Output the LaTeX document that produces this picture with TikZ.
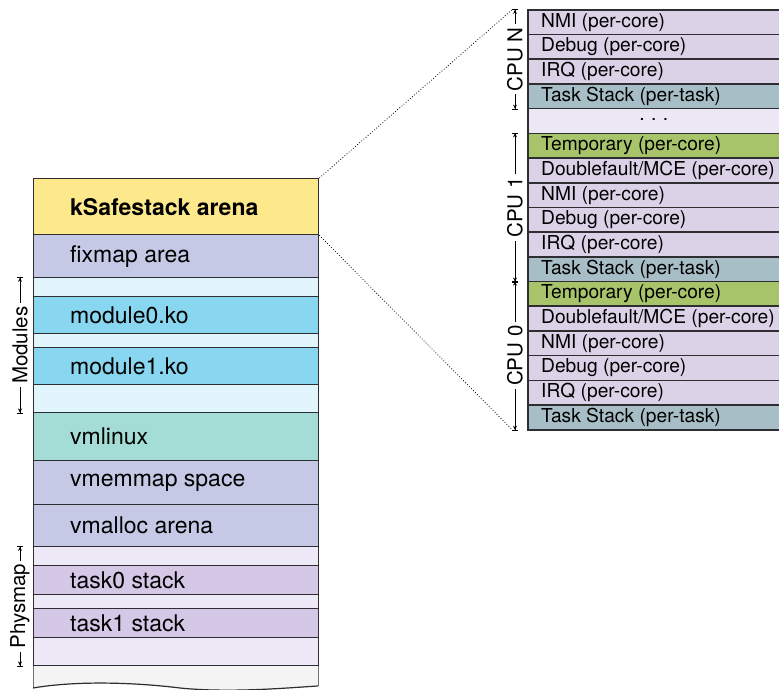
\documentclass[tikz,border=0pt]{standalone}
\usepackage{fontspec}
\setmainfont{TeX Gyre Heros}
\usetikzlibrary{arrows.meta}

% region fills
\definecolor{cYellow}{RGB}{254,232,140}
\definecolor{cLav}{RGB}{198,201,230}
\definecolor{cIce}{RGB}{224,245,252}
\definecolor{cCyan}{RGB}{136,214,240}
\definecolor{cTeal}{RGB}{164,220,214}
\definecolor{cPale}{RGB}{237,233,246}
\definecolor{cPurple}{RGB}{213,200,230}
\definecolor{cGray}{RGB}{244,244,244}
% stack fills
\definecolor{cCore}{RGB}{220,210,232}
\definecolor{cTask}{RGB}{168,190,198}
\definecolor{cTemp}{RGB}{168,196,106}
\definecolor{cDots}{RGB}{235,231,244}
\definecolor{cEdge}{RGB}{45,45,50}

\begin{document}
\begin{tikzpicture}[x=1pt,y=-1pt,
  leftrow/.style={rectangle,draw=cEdge,line width=1.3pt,inner sep=0pt,
    minimum width=285pt,anchor=north west},
  rightrow/.style={rectangle,draw=cEdge,line width=1.6pt,inner sep=0pt,
    minimum width=260pt,minimum height=24.706pt,anchor=north west},
  lefttext/.style={anchor=west,inner sep=0pt,font=\fontsize{23}{27}\selectfont},
  righttext/.style={anchor=west,inner sep=0pt,font=\fontsize{19.2}{23}\selectfont},
  dimline/.style={line width=0.8pt,
    arrows={Bar[width=6pt]Stealth[length=4pt,width=4pt]-Stealth[length=4pt,width=4pt]Bar[width=6pt]}},
  dimlabel/.style={rotate=90,fill=white,inner xsep=3pt,inner ysep=0.5pt,
    font=\fontsize{20.5}{24}\selectfont},
  zoomline/.style={dotted,line width=0.8pt,black}]

\useasboundingbox (0,0) rectangle (779,690);
\clip (0,0) rectangle (779,690);

% ---- kernel address space column ----
\fill[cGray] (33,665) -- (33,688) .. controls (80,680) and (140,683) .. (180,688)
  .. controls (230,693) and (285,688) .. (318,686) -- (318,665) -- cycle;
\draw[black!55,line width=1pt] (33,665) -- (33,688) (318,665) -- (318,686);
\draw[cEdge,line width=1.2pt] (33,688) .. controls (80,680) and (140,683) .. (180,688)
  .. controls (230,693) and (285,688) .. (318,686);

\foreach \n/\t/\b/\c/\txt in {
  ksafe/178/234/cYellow/{\textbf{kSafestack arena}},
  fixmap/234/277/cLav/{fixmap area},
  modgapa/277/296/cIce/{},
  modzero/296/333/cCyan/{module0.ko},
  modgapb/333/347/cIce/{},
  modone/347/384/cCyan/{module1.ko},
  modgapc/384/412/cIce/{},
  vmlinux/412/460/cTeal/{vmlinux},
  vmemmap/460/504/cLav/{vmemmap space},
  vmalloc/504/546/cLav/{vmalloc arena},
  physa/546/565/cPale/{},
  taskzero/565/594/cPurple/{task0 stack},
  physb/594/608/cPale/{},
  taskone/608/637/cPurple/{task1 stack},
  physc/637/665/cPale/{}}
{
  \node[leftrow,fill=\c,minimum height={(\b-\t)*1pt}] (\n) at (33,\t) {};
  \node[lefttext] (\n-t) at ([xshift=37pt]\n.west) {\txt};
}

% ---- per-CPU stack column ----
\foreach \i/\c/\txt in {
  0/cCore/{NMI (per-core)},
  1/cCore/{Debug (per-core)},
  2/cCore/{IRQ (per-core)},
  3/cTask/{Task Stack (per-task)},
  4/cDots/{},
  5/cTemp/{Temporary (per-core)},
  6/cCore/{Doublefault/MCE (per-core)},
  7/cCore/{NMI (per-core)},
  8/cCore/{Debug (per-core)},
  9/cCore/{IRQ (per-core)},
  10/cTask/{Task Stack (per-task)},
  11/cTemp/{Temporary (per-core)},
  12/cCore/{Doublefault/MCE (per-core)},
  13/cCore/{NMI (per-core)},
  14/cCore/{Debug (per-core)},
  15/cCore/{IRQ (per-core)},
  16/cTask/{Task Stack (per-task)}}
{
  \node[rightrow,fill=\c] (r\i) at (527,{9+\i*24.706}) {};
  \node[righttext] (r\i-t) at ([xshift=14pt]r\i.west) {\txt};
}
\node[font=\fontsize{19.2}{23}\selectfont,inner sep=0pt] (rdots) at ([xshift=-4pt,yshift=1pt]r4.center) {.\,\,.\,\,.};

% ---- dimension lines ----
\coordinate (mx) at (20,0);
\coordinate (cx) at (515,0);
\coordinate (cpuNtop) at (r0.north west -| cx);
\coordinate (cpuNbot) at (r3.south west -| cx);
\coordinate (cpuOtop) at (r5.north west -| cx);
\coordinate (cpuObot) at (r10.south west -| cx);
\coordinate (cpuZtop) at (r11.north west -| cx);
\coordinate (cpuZbot) at (r16.south west -| cx);

\draw[dimline] (modgapa.north west -| mx) -- node[dimlabel] {Modules} (modgapc.south west -| mx);
\draw[dimline] (physa.north west -| mx) -- node[dimlabel] {Physmap} (physc.south west -| mx);
\draw[dimline] (cpuNbot) -- node[dimlabel] {CPU N} (cpuNtop);
\draw[dimline] (cpuObot) -- node[dimlabel] {CPU 1} (cpuOtop);
\draw[dimline] (cpuZbot) -- node[dimlabel] {CPU 0} (cpuZtop);

% ---- zoom guides ----
\draw[zoomline] (ksafe.north east) -- ([xshift=-2pt]cpuNtop);
\draw[zoomline] (ksafe.south east) -- ([xshift=-2pt]cpuZbot);
\end{tikzpicture}
\end{document}
